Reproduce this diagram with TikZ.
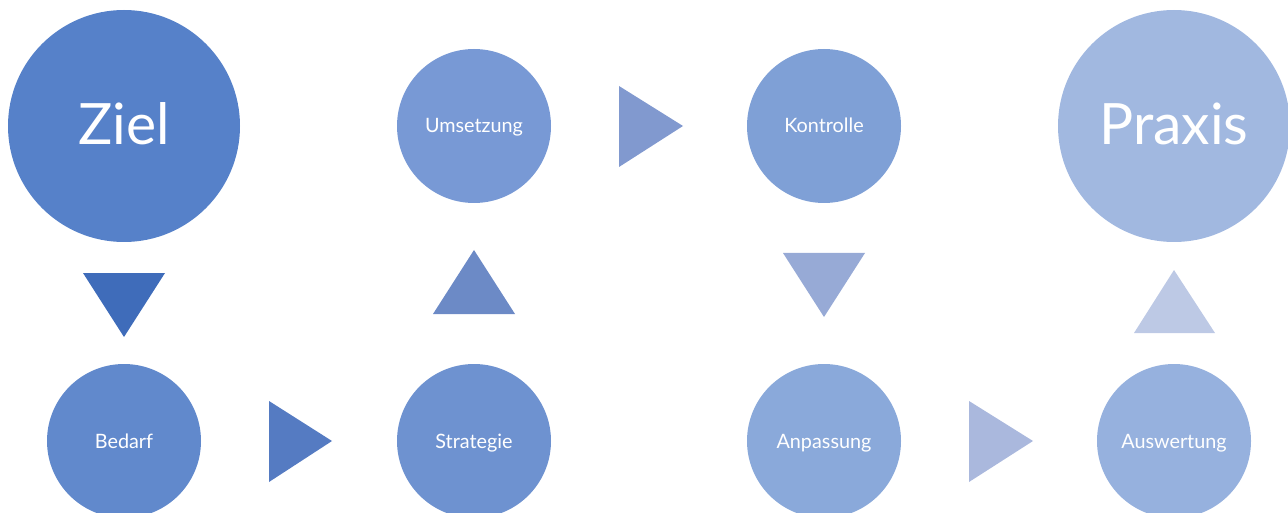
\documentclass[tikz,border=0pt]{standalone}
\usepackage{fontspec}
\setmainfont{Lato}
\usetikzlibrary{calc}
\definecolor{cZiel}{HTML}{5681C9}
\definecolor{cBedarf}{HTML}{6189CC}
\definecolor{cStrategie}{HTML}{6E92D0}
\definecolor{cUmsetzung}{HTML}{7899D5}
\definecolor{cKontrolle}{HTML}{7FA0D6}
\definecolor{cAnpassung}{HTML}{8AA9DA}
\definecolor{cAuswertung}{HTML}{96B1DE}
\definecolor{cPraxis}{HTML}{A1B8E0}
\definecolor{tA}{HTML}{3F6CBA}
\definecolor{tB}{HTML}{557BC2}
\definecolor{tC}{HTML}{6C8AC6}
\definecolor{tD}{HTML}{8199CF}
\definecolor{tE}{HTML}{97AAD6}
\definecolor{tF}{HTML}{AAB8DD}
\definecolor{tG}{HTML}{BDC9E5}
\tikzset{
  bigcirc/.style={circle, inner sep=0pt, minimum size=232pt},
  smallcirc/.style={circle, inner sep=0pt, minimum size=154pt},
  biglbl/.style={text=white, inner sep=0pt, anchor=base, font=\fontsize{57}{60}\selectfont},
  lbl/.style={text=white, inner sep=0pt, anchor=base, font=\fontsize{19.8}{22}\selectfont},
}
\begin{document}
\begin{tikzpicture}[x=1pt,y=-1pt]
\useasboundingbox (0,0) rectangle (1288,513);
\node[bigcirc, fill=cZiel] (ziel) at (124,126) {};
\node[bigcirc, fill=cPraxis] (praxis) at (1174,126) {};
\node[smallcirc, fill=cBedarf] (bedarf) at (124,441) {};
\node[smallcirc, fill=cStrategie] (strategie) at (474,441) {};
\node[smallcirc, fill=cUmsetzung] (umsetzung) at (474,126) {};
\node[smallcirc, fill=cKontrolle] (kontrolle) at (824,126) {};
\node[smallcirc, fill=cAnpassung] (anpassung) at (824,441) {};
\node[smallcirc, fill=cAuswertung] (auswertung) at (1174,441) {};
\node[biglbl] (lziel) at ($(ziel)+(0,18.5)$) {Ziel};
\node[biglbl] (lpraxis) at ($(praxis)+(0,18.5)$) {Praxis};
\node[lbl] (lbedarf) at ($(bedarf)+(0,7)$) {Bedarf};
\node[lbl] (lstrategie) at ($(strategie)+(0,7)$) {Strategie};
\node[lbl] (lumsetzung) at ($(umsetzung)+(0,7)$) {Umsetzung};
\node[lbl] (lkontrolle) at ($(kontrolle)+(0,7)$) {Kontrolle};
\node[lbl] (lanpassung) at ($(anpassung)+(0,7)$) {Anpassung};
\node[lbl] (lauswertung) at ($(auswertung)+(0,7)$) {Auswertung};
% arrows as triangles
\fill[tA] (83,273) -- (165,273) -- (124,337) -- cycle;
\fill[tB] (269,401) -- (332,441) -- (269,482) -- cycle;
\fill[tC] (433,314) -- (515,314) -- (474,250) -- cycle;
\fill[tD] (619,86) -- (683,126) -- (619,167) -- cycle;
\fill[tE] (783,253) -- (865,253) -- (824,317) -- cycle;
\fill[tF] (969,401) -- (1033,441) -- (969,482) -- cycle;
\fill[tG] (1134,333) -- (1215,333) -- (1174,270) -- cycle;
\end{tikzpicture}
\end{document}
